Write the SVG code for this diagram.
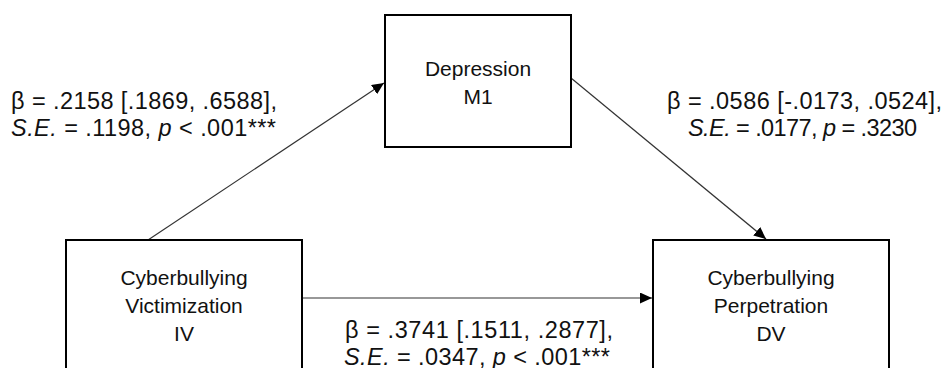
<svg xmlns="http://www.w3.org/2000/svg" width="946" height="368" viewBox="0 0 946 368">
  <style>
    .box { fill: #ffffff; stroke: #000000; stroke-width: 2; }
    .node-text { font-family: "Liberation Sans", Arial, sans-serif; font-size: 21px; fill: #111111; text-anchor: middle; }
    .label { font-family: "Liberation Sans", Arial, sans-serif; font-size: 23.5px; fill: #111111; }
    .it { font-style: italic; }
    .edge { stroke: #333333; stroke-width: 1.2; fill: none; marker-end: url(#arrow); }
  </style>
  <defs>
    <marker id="arrow" markerUnits="userSpaceOnUse" markerWidth="13" markerHeight="11" refX="12" refY="5.5" orient="auto">
      <path d="M0,0 L12,5.5 L0,11 Z" fill="#000000"/>
    </marker>
  </defs>
  <rect width="946" height="368" fill="#ffffff"/>

  <!-- connectors -->
  <g id="connectors">
    <line class="edge" x1="148" y1="240" x2="384" y2="83"/>
    <line class="edge" x1="571" y1="78" x2="766" y2="239"/>
    <line class="edge" x1="302" y1="298" x2="652" y2="298"/>
  </g>

  <!-- mediator -->
  <g id="node-m1">
    <rect class="box" x="385" y="15" width="186" height="132"/>
    <text class="node-text" x="478" y="76">Depression</text>
    <text class="node-text" x="478" y="104">M1</text>
  </g>

  <!-- independent variable -->
  <g id="node-iv">
    <rect class="box" x="66" y="240" width="236" height="150"/>
    <text class="node-text" x="184" y="285">Cyberbullying</text>
    <text class="node-text" x="184" y="313">Victimization</text>
    <text class="node-text" x="184" y="341">IV</text>
  </g>

  <!-- dependent variable -->
  <g id="node-dv">
    <rect class="box" x="653" y="240" width="236" height="150"/>
    <text class="node-text" x="771" y="285">Cyberbullying</text>
    <text class="node-text" x="771" y="313">Perpetration</text>
    <text class="node-text" x="771" y="341">DV</text>
  </g>

  <!-- path coefficients -->
  <g id="label-a">
    <text class="label" x="11" y="109" textLength="266">β = .2158 [.1869, .6588],</text>
    <text class="label" x="11" y="136" textLength="265"><tspan class="it">S.E.</tspan> = .1198, <tspan class="it">p</tspan> &lt; .001***</text>
  </g>
  <g id="label-b">
    <text class="label" x="667" y="109" textLength="275">β = .0586 [-.0173, .0524],</text>
    <text class="label" x="688" y="136" textLength="229"><tspan class="it">S.E.</tspan> = .0177, <tspan class="it">p</tspan> = .3230</text>
  </g>
  <g id="label-c">
    <text class="label" x="345" y="338" textLength="268">β = .3741 [.1511, .2877],</text>
    <text class="label" x="344" y="365" textLength="266"><tspan class="it">S.E.</tspan> = .0347, <tspan class="it">p</tspan> &lt; .001***</text>
  </g>
</svg>
